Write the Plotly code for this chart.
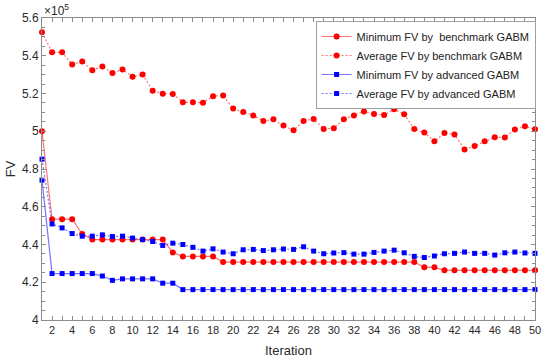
import plotly.graph_objects as go

iterations = list(range(1, 51))

# values in units of 1e5
bench_min = [5.00, 4.534, 4.534, 4.534, 4.455, 4.426, 4.426, 4.426, 4.426, 4.426,
             4.426, 4.426, 4.426, 4.358, 4.337, 4.337, 4.337, 4.337, 4.307, 4.307,
             4.307, 4.307, 4.307, 4.307, 4.307, 4.307, 4.307, 4.307, 4.307, 4.307,
             4.307, 4.307, 4.307, 4.307, 4.307, 4.307, 4.307, 4.307, 4.279, 4.279,
             4.263, 4.263, 4.263, 4.263, 4.263, 4.263, 4.263, 4.263, 4.263, 4.263]
bench_avg = [5.524, 5.418, 5.418, 5.354, 5.369, 5.323, 5.343, 5.308, 5.327, 5.289,
             5.301, 5.215, 5.199, 5.198, 5.153, 5.153, 5.151, 5.186, 5.190, 5.120,
             5.102, 5.084, 5.054, 5.063, 5.030, 5.005, 5.054, 5.065, 5.012, 5.016,
             5.063, 5.083, 5.105, 5.091, 5.086, 5.116, 5.090, 5.012, 4.993, 4.947,
             4.991, 4.983, 4.903, 4.922, 4.947, 4.968, 4.967, 5.009, 5.026, 5.010]
adv_min = [4.741, 4.246, 4.246, 4.246, 4.246, 4.246, 4.233, 4.210, 4.218, 4.218,
           4.218, 4.218, 4.195, 4.195, 4.161, 4.161, 4.161, 4.161, 4.161, 4.161,
           4.161, 4.161, 4.161, 4.161, 4.161, 4.161, 4.161, 4.161, 4.161, 4.161,
           4.161, 4.161, 4.161, 4.161, 4.161, 4.161, 4.161, 4.161, 4.161, 4.161,
           4.161, 4.161, 4.161, 4.161, 4.161, 4.161, 4.161, 4.161, 4.161, 4.161]
adv_avg = [4.852, 4.509, 4.488, 4.458, 4.444, 4.444, 4.451, 4.442, 4.444, 4.434,
           4.426, 4.416, 4.395, 4.407, 4.400, 4.385, 4.365, 4.377, 4.360, 4.351,
           4.372, 4.374, 4.368, 4.372, 4.376, 4.374, 4.388, 4.365, 4.351, 4.355,
           4.357, 4.349, 4.349, 4.358, 4.365, 4.370, 4.356, 4.337, 4.331, 4.339,
           4.351, 4.353, 4.360, 4.353, 4.353, 4.344, 4.356, 4.360, 4.355, 4.353]

series_names = ["Minimum FV by  benchmark GABM", "Average FV by benchmark GABM",
                "Minimum FV by advanced GABM", "Average FV by advanced GABM"]

FONT = "Liberation Sans, Arial, sans-serif"
AX = "#8c8c8c"
TXT = "#2a2a2a"

fig = go.Figure()
specs = [
    (bench_min, "red", "rgba(255,0,0,0.55)", "solid", "circle", 6),
    (bench_avg, "red", "rgba(255,0,0,0.55)", "2px,2px", "circle", 6),
    (adv_min, "blue", "rgba(0,0,255,0.55)", "solid", "square", 5),
    (adv_avg, "blue", "rgba(0,0,255,0.55)", "2px,2px", "square", 5),
]
for (vals, col, lcol, dash, sym, sz), name in zip(specs, series_names):
    fig.add_trace(go.Scatter(
        x=iterations, y=vals, name=name, mode="lines+markers",
        line=dict(color=lcol, width=1.2, dash=dash),
        marker=dict(color=col, symbol=sym, size=sz, line=dict(width=0)),
        cliponaxis=False,
    ))

fig.update_layout(
    width=550, height=360,
    margin=dict(l=42, r=15, t=18, b=40, autoexpand=False),
    paper_bgcolor="white", plot_bgcolor="white",
    font=dict(family=FONT, color=TXT, size=12),
    showlegend=True,
    legend=dict(
        x=0.555, y=0.99, xanchor="left", yanchor="top",
        bgcolor="white", bordercolor="#a0a0a0", borderwidth=1,
        font=dict(size=11, color="#222222", family=FONT),
        tracegroupgap=0, itemwidth=30,
    ),
    xaxis=dict(
        range=[1, 50], tickmode="linear", tick0=2, dtick=2,
        ticks="inside", ticklen=4, tickcolor=AX, tickwidth=1,
        minor=dict(dtick=1, tick0=1, ticks="inside", ticklen=4, tickcolor=AX),
        showline=True, linecolor=AX, linewidth=1, mirror="ticks",
        showgrid=False, zeroline=False, automargin=False,
        tickfont=dict(size=11, color=TXT),
        title=dict(text="Iteration", font=dict(size=13, color=TXT), standoff=10),
    ),
    yaxis=dict(
        range=[4, 5.6], tickmode="linear", tick0=4, dtick=0.2,
        ticks="inside", ticklen=4, tickcolor=AX, tickwidth=1,
        minor=dict(dtick=0.05, ticks="inside", ticklen=3, tickcolor=AX),
        showline=True, linecolor=AX, linewidth=1, mirror="ticks",
        showgrid=False, zeroline=False, automargin=False,
        tickfont=dict(size=12, color=TXT),
        title=dict(text="FV", font=dict(size=13, color=TXT), standoff=3),
    ),
    annotations=[dict(
        text="×10<sup>5</sup>", xref="paper", yref="paper", x=0, y=1,
        xanchor="left", yanchor="bottom", showarrow=False,
        font=dict(size=12, color=TXT, family=FONT), yshift=-2,
    )],
)

fig.write_html("out.html", config={"displayModeBar": False},
               post_script="document.body.style.margin='0';")
